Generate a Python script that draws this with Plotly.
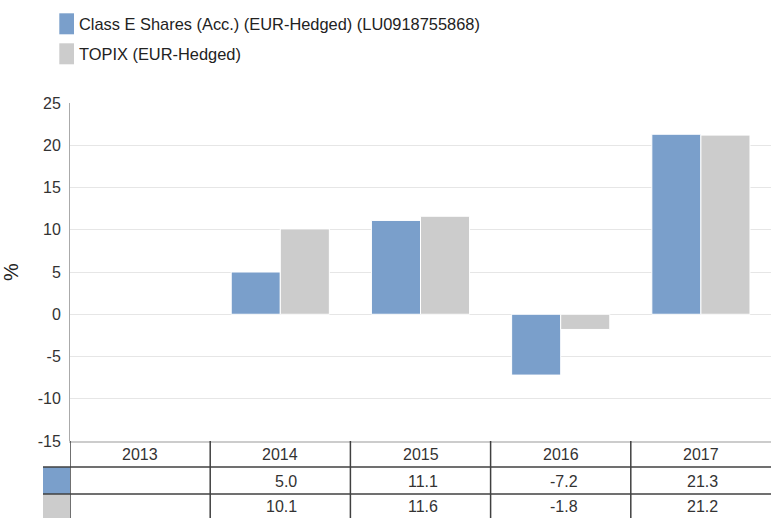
import plotly.graph_objects as go

years = ["2013", "2014", "2015", "2016", "2017"]
fund_name = "Class E Shares (Acc.) (EUR-Hedged) (LU0918755868)"
index_name = "TOPIX (EUR-Hedged)"
fund_vals = [None, 5.0, 11.1, -7.2, 21.3]
index_vals = [None, 10.1, 11.6, -1.8, 21.2]
y_ticks = [-15, -10, -5, 0, 5, 10, 15, 20, 25]

BLUE = "#7a9fcb"
GREY = "#cccccc"
W, H = 771, 518
ML, MR, MT, MB = 70, 0, 103, 77
PW, PH = W - ML - MR, H - MT - MB


def px(x):
    return (x - ML) / PW


def py(y):
    return (H - MB - y) / PH


fig = go.Figure()
fig.add_trace(go.Bar(x=years, y=fund_vals, name=fund_name, marker=dict(color=BLUE, line=dict(color="white", width=1)), showlegend=False))
fig.add_trace(go.Bar(x=years, y=index_vals, name=index_name, marker=dict(color=GREY, line=dict(color="white", width=1)), showlegend=False))

shapes = []
annotations = []
FONT = "Liberation Sans, Arial, sans-serif"

# legend
for i, (name, col) in enumerate([(fund_name, BLUE), (index_name, GREY)]):
    top = 13.3 + i * 30
    shapes.append(dict(type="rect", xref="paper", yref="paper", x0=px(59.3), x1=px(74), y0=py(top + 21), y1=py(top), fillcolor=col, line=dict(width=0)))
    annotations.append(dict(xref="paper", yref="paper", x=px(77), y=py(top + 11), text=name, showarrow=False, xanchor="left", yanchor="middle", font=dict(family=FONT, size=16.4, color="#222222")))

# table
DARK = "#404040"
row_lines = [467, 494]
for yl in row_lines:
    shapes.append(dict(type="line", xref="paper", yref="paper", x0=px(43), x1=1, y0=py(yl), y1=py(yl), line=dict(color=DARK, width=1.5)))
for k in range(len(years)):
    shapes.append(dict(type="line", xref="x", yref="paper", x0=k - 0.5, x1=k - 0.5, y0=0, y1=py(H + 2), line=dict(color=DARK, width=1.5)))
shapes.append(dict(type="rect", xref="paper", yref="paper", x0=px(43), x1=0, y0=py(494), y1=py(467), fillcolor=BLUE, line=dict(width=0), layer="below"))
shapes.append(dict(type="rect", xref="paper", yref="paper", x0=px(43), x1=0, y0=py(H + 2), y1=py(494), fillcolor=GREY, line=dict(width=0), layer="below"))

for k, yr in enumerate(years):
    annotations.append(dict(xref="x", yref="paper", x=k, y=py(454), text=yr, showarrow=False, xanchor="center", yanchor="middle", font=dict(family=FONT, size=16, color="#333333")))
    for vals, yc in [(fund_vals, 481), (index_vals, 507)]:
        v = vals[k]
        if v is not None:
            annotations.append(dict(xref="x", yref="paper", x=k, y=py(yc), text=f"{v:.1f}", showarrow=False, xanchor="right", yanchor="middle", xshift=19, font=dict(family=FONT, size=16, color="#333333")))

fig.update_layout(
    width=W, height=H,
    margin=dict(l=ML, r=MR, t=MT, b=MB, autoexpand=False),
    paper_bgcolor="white", plot_bgcolor="white",
    barmode="group", bargap=0.3, bargroupgap=0.0,
    showlegend=False,
    shapes=shapes, annotations=annotations,
    font=dict(family=FONT, color="#333333"),
)
fig.update_xaxes(type="category", range=[-0.5, 4.5], showticklabels=False, showgrid=False, showline=True, linecolor="#cccccc", linewidth=2, zeroline=False, ticks="")
fig.update_yaxes(range=[-15, 25], tickvals=y_ticks, ticktext=[str(v) for v in y_ticks], showgrid=True, gridcolor="#e6e6e6", gridwidth=1, zeroline=True, zerolinecolor="#e6e6e6", zerolinewidth=1,
                 showline=True, linecolor="#aaaaaa", linewidth=1, ticks="", ticklabelstandoff=5,
                 tickfont=dict(family=FONT, size=16, color="#333333"),
                 title=dict(text="%", font=dict(family=FONT, size=20, color="#222222"), standoff=26))

fig.write_html("out.html")
